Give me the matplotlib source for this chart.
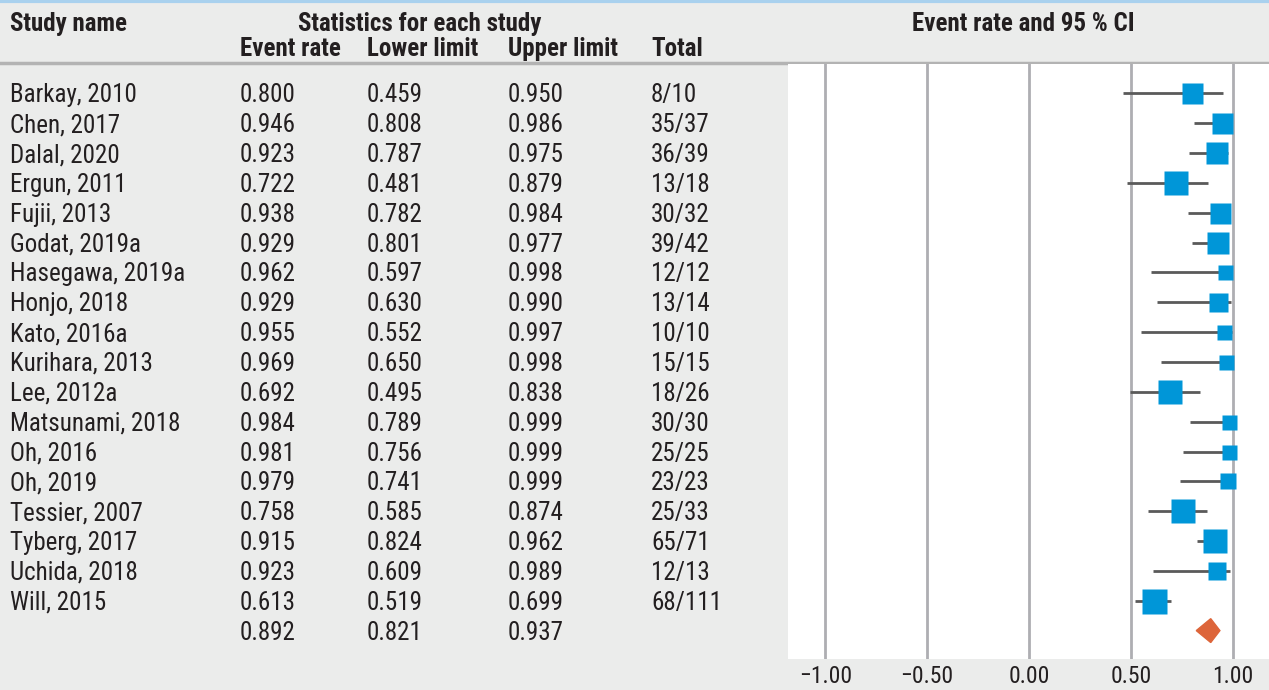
import numpy as np
import matplotlib.pyplot as plt
from matplotlib.patches import Polygon

plt.rcParams['font.family'] = ['Roboto Condensed', 'DejaVu Sans']

studies = ['Barkay, 2010', 'Chen, 2017', 'Dalal, 2020', 'Ergun, 2011', 'Fujii, 2013',
           'Godat, 2019a', 'Hasegawa, 2019a', 'Honjo, 2018', 'Kato, 2016a',
           'Kurihara, 2013', 'Lee, 2012a', 'Matsunami, 2018', 'Oh, 2016', 'Oh, 2019',
           'Tessier, 2007', 'Tyberg, 2017', 'Uchida, 2018', 'Will, 2015']
rate = [0.800, 0.946, 0.923, 0.722, 0.938, 0.929, 0.962, 0.929, 0.955, 0.969,
        0.692, 0.984, 0.981, 0.979, 0.758, 0.915, 0.923, 0.613]
lower = [0.459, 0.808, 0.787, 0.481, 0.782, 0.801, 0.597, 0.630, 0.552, 0.650,
         0.495, 0.789, 0.756, 0.741, 0.585, 0.824, 0.609, 0.519]
upper = [0.950, 0.986, 0.975, 0.879, 0.984, 0.977, 0.998, 0.990, 0.997, 0.998,
         0.838, 0.999, 0.999, 0.999, 0.874, 0.962, 0.989, 0.699]
total = ['8/10', '35/37', '36/39', '13/18', '30/32', '39/42', '12/12', '13/14', '10/10',
         '15/15', '18/26', '30/30', '25/25', '23/23', '25/33', '65/71', '12/13', '68/111']
weight = [21, 21, 23, 24, 21, 22, 15, 19, 15, 15, 24, 15, 15, 16, 24, 24, 18, 25]
pooled = (0.892, 0.821, 0.937)
xticks = [-1.0, -0.5, 0.0, 0.5, 1.0]

W, H = 1269, 690
bg = '#ebeceb'
fig = plt.figure(figsize=(W / 100, H / 100), dpi=100, facecolor=bg)

# background axes in pixel coords for the table
bax = fig.add_axes([0, 0, 1, 1])
bax.set_xlim(0, W)
bax.set_ylim(H, 0)
bax.axis('off')
bax.axhline(1, color='#a9d1ee', lw=3)
bax.axhline(63, color='#b3b3b3', lw=2.5)

fs = 18
tc = '#231f20'
y0, dy = 93.3, 29.85
off = 2  # text sits a little lower than the marker centre
cols = [10, 240, 367, 508, 651]
bax.text(cols[0], 22 + off, 'Study name', fontsize=fs, fontweight='bold', va='center', color=tc)
bax.text(420, 22 + off, 'Statistics for each study', fontsize=fs, fontweight='bold',
         va='center', ha='center', color=tc)
for c, lab in zip(cols[1:], ['Event rate', 'Lower limit', 'Upper limit', 'Total']):
    bax.text(c, 47 + off, lab, fontsize=fs, fontweight='bold', va='center', color=tc)
bax.text(1023, 22 + off, 'Event rate and 95 % CI', fontsize=fs, fontweight='bold',
         va='center', ha='center', color=tc)

for i in range(len(studies)):
    y = y0 + i * dy + off
    vals = [studies[i], f'{rate[i]:.3f}', f'{lower[i]:.3f}', f'{upper[i]:.3f}', total[i]]
    for c, v in zip(cols, vals):
        bax.text(c, y, v, fontsize=fs, va='center', color=tc)
ys = y0 + len(studies) * dy + off
for c, v in zip(cols[1:4], pooled):
    bax.text(c, ys, f'{v:.3f}', fontsize=fs, va='center', color=tc)

# forest plot axes
ax = fig.add_axes([788 / W, 31 / H, (W - 788) / W, (659 - 64) / H])
ax.set_facecolor('white')
ax.set_xlim(-1.183, 1.178)
ax.set_ylim((659 - y0) / dy, (64 - y0) / dy)
for s in ax.spines.values():
    s.set_visible(False)
for xt in xticks:
    ax.axvline(xt, color='#aeaeb2', lw=2, zorder=1)

n = np.arange(len(studies))
ax.hlines(n, lower, upper, color='#5a5a5a', lw=2, zorder=2)
for i in n:
    ax.plot(rate[i], i, 's', ms=weight[i] * 0.72, color='#0096d8', mec='none', zorder=3)

k = len(studies)
dh = 0.4
ax.add_patch(Polygon([[pooled[1], k], [pooled[0], k - dh], [pooled[2], k], [pooled[0], k + dh]],
                     closed=True, color='#dd653a', zorder=3))

ax.set_yticks([])
ax.set_xticks(xticks)
ax.set_xticklabels([f'{v:.2f}'.replace('-', '\u2212') for v in xticks], fontsize=17, color=tc)
ax.tick_params(axis='x', length=0, pad=4)

fig.savefig('out.png', dpi=100, facecolor=bg)
